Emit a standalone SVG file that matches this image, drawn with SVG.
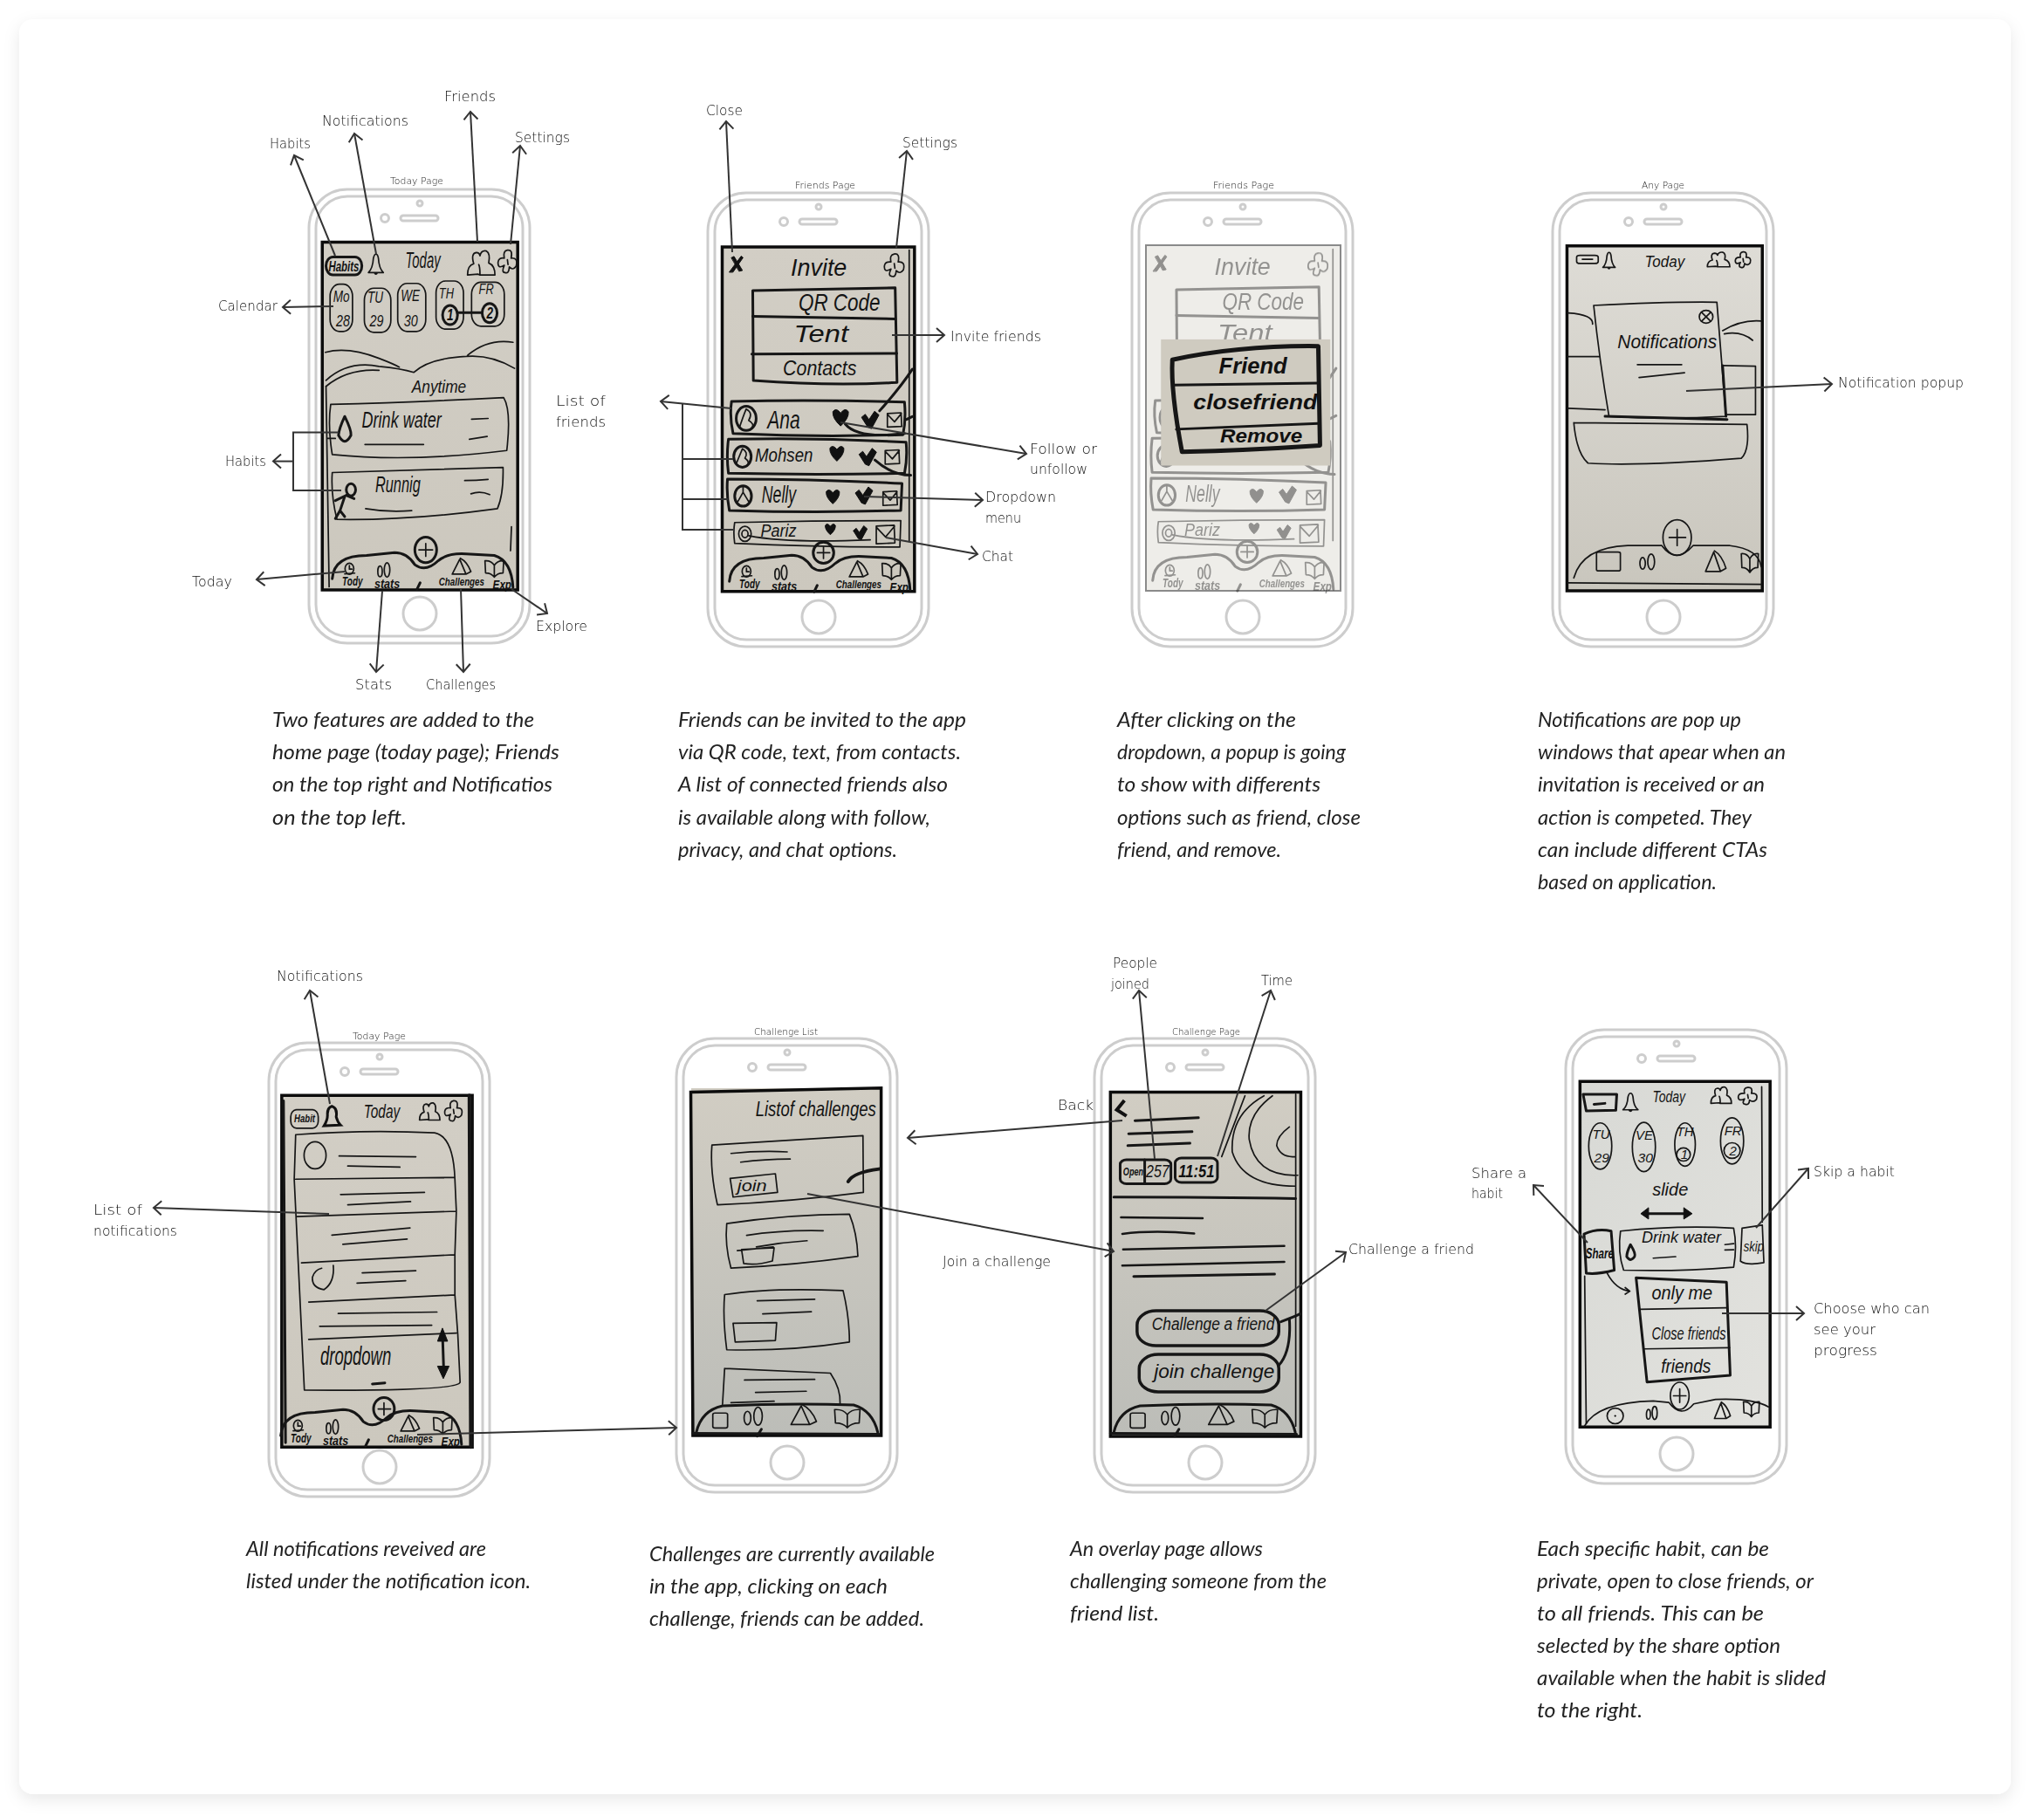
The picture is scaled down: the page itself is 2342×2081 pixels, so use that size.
<svg xmlns="http://www.w3.org/2000/svg" width="2342" height="2081" viewBox="0 0 2342 2081">
<style>
.f{fill:none;stroke:#cdcdcd;stroke-width:3}
.s{fill:none;stroke:#161616;stroke-width:1.7;vector-effect:non-scaling-stroke;stroke-linecap:round;stroke-linejoin:round}
.b{stroke-width:3}
.k{fill:#111;stroke:#111;stroke-width:1;vector-effect:non-scaling-stroke;stroke-linejoin:round}
.fr{fill:none;stroke:#0c0c0c;stroke-width:3.5;vector-effect:non-scaling-stroke}
.t{font-family:"Liberation Sans",Arial,sans-serif;font-style:italic;fill:#141414}
.tb{font-family:"Liberation Sans",Arial,sans-serif;font-style:italic;font-weight:700;fill:#111}
.l{font-family:"DejaVu Sans",sans-serif;font-weight:200;font-size:15px;fill:#111}
.p{font-family:"DejaVu Sans",sans-serif;font-weight:200;font-size:10px;fill:#222}
.c{font-family:"Lato","Liberation Sans",sans-serif;font-style:italic;font-size:24px;fill:#222}
.a{fill:none;stroke:#333;stroke-width:2;marker-end:url(#ah)}
.n{fill:none;stroke:#333;stroke-width:2}
</style>
<defs>
<filter id="sh" x="-3%" y="-3%" width="106%" height="106%"><feDropShadow dx="0" dy="6" stdDeviation="9" flood-color="#000" flood-opacity=".09"/></filter>
<marker id="ah" viewBox="-12 -10 14 20" refX="0" refY="0" markerWidth="14" markerHeight="20" markerUnits="userSpaceOnUse" orient="auto"><path d="M-9,-8 L0,0 L-9,8" fill="none" stroke="#333" stroke-width="2"/></marker>
<linearGradient id="g1" x1="0" y1="0" x2="0" y2="1"><stop offset="0" stop-color="#d2cec5"/><stop offset="1" stop-color="#ccc8be"/></linearGradient>
<linearGradient id="g2" x1="0" y1="0" x2="0" y2="1"><stop offset="0" stop-color="#d1cdc3"/><stop offset="1" stop-color="#bcbdb8"/></linearGradient>
<linearGradient id="g3" x1="0" y1="0" x2="0" y2="1"><stop offset="0" stop-color="#dedcd6"/><stop offset="1" stop-color="#c9c6bd"/></linearGradient>
<linearGradient id="g4" x1="0" y1="0" x2="1" y2="1"><stop offset="0" stop-color="#d8d9d5"/><stop offset="1" stop-color="#e2e2de"/></linearGradient>
<g id="phone">
<rect class="f" x="0" y="0" width="253" height="520" rx="44"/>
<rect class="f" x="8" y="8" width="237" height="504" rx="36"/>
<circle class="f" cx="127" cy="16" r="3" stroke-width="2"/>
<circle class="f" cx="87" cy="33" r="4.5"/>
<rect class="f" x="105" y="30" width="43" height="6" rx="3"/>
<circle class="f" cx="127" cy="486" r="19" stroke-width="4"/>
</g>
<path id="heart" class="k" d="M0,-12 Q14,-28 25,-16 Q27,2 0,22 Q-27,2 -25,-16 Q-14,-28 0,-12 Z"/>
<path id="check" class="k" d="M-28,-8 L-16,-16 L-4,-2 L14,-24 L28,-14 L4,22 L-8,18 Z"/>
<g id="mail"><path class="s" d="M-22,-18 L22,-20 L24,16 L-22,18 Z M-22,-16 L1,4 L23,-18"/></g>
<path id="bell" class="s" d="M-24,22 Q-10,12 -8,-14 Q-5,-24 0,-24 Q6,-24 8,-14 Q10,12 24,22 Z M-5,22 Q0,30 5,22"/>
<path id="friends" class="s" d="M-44,30 Q-44,6 -24,2 Q-34,-24 -16,-26 Q-6,-26 -4,-18 Q0,-32 16,-30 Q30,-24 24,0 Q44,6 44,30 L-4,30 L-10,28 L-44,30 Z M-8,4 Q-4,10 -4,28"/>
<path id="flower" class="s" d="M0,-30 Q18,-32 12,-10 Q35,-12 28,10 Q18,22 6,12 Q5,30 -8,26 Q-20,25 -10,8 Q-32,18 -30,0 Q-28,-12 -10,-10 Q-15,-28 0,-30 Z M0,-6 L2,6"/>
<path id="book" class="s" d="M-30,-28 Q-10,-30 0,-12 Q10,-30 30,-28 L28,15 Q10,15 0,30 Q-10,15 -28,15 Z M0,-12 L0,30"/>
<path id="tri" class="s" d="M-30,30 L-6,-30 L14,30 Z M-4,-34 Q18,-20 30,20 L14,30"/>
<g id="bars"><ellipse class="s" cx="-13" cy="5" rx="8" ry="18"/><ellipse class="s" cx="12" cy="0" rx="10" ry="24"/></g>
<g id="nav" font-size="40">
<path class="s b" d="M450,1270 Q455,1212 560,1212 L650,1205 Q690,1205 715,1235 Q750,1255 790,1225 Q820,1205 880,1208 L970,1212 Q1025,1225 1030,1292"/>
<circle class="s" cx="505" cy="1245" r="14"/><path class="s" d="M490,1258 L522,1256 M505,1237 L505,1246 L513,1246"/>
<use href="#bars" transform="translate(615,1248) scale(.9,.75)"/>
<use href="#tri" transform="translate(865,1240) scale(1,.62)"/>
<use href="#book" transform="translate(970,1245) scale(1,.7)"/>
<text class="tb" x="482" y="1288" font-size="30" textLength="66" lengthAdjust="spacingAndGlyphs">Tody</text>
<text class="tb" x="585" y="1294" font-size="30" textLength="82" lengthAdjust="spacingAndGlyphs">stats</text>
<text class="tb" x="792" y="1288" font-size="28" textLength="146" lengthAdjust="spacingAndGlyphs">Challenges</text>
<text class="tb" x="965" y="1296" font-size="30" textLength="60" lengthAdjust="spacingAndGlyphs">Exp</text>
<path class="s b" d="M722,1296 L732,1280"/>
</g>
<g id="nav2">
<path class="s b" d="M78,1320 Q90,1250 140,1235 Q300,1225 450,1232 Q495,1250 507,1320 M70,1323 L510,1326 M222,1332 L232,1310"/>
<rect class="s" x="117" y="1258" width="35" height="48" rx="5"/>
<use href="#bars" transform="translate(212,1268) scale(1,1.2)"/>
<use href="#tri" transform="translate(332,1265)"/>
<use href="#book" transform="translate(435,1275)"/>
</g>
<g id="friends-sketch">
<path class="s k" d="M268,488 L306,446 L312,450 L280,488 Z M275,450 L283,447 L310,484 L300,486 Z"/>
<text class="t" x="465" y="498" font-size="62" textLength="180" lengthAdjust="spacingAndGlyphs">Invite</text>
<use href="#flower" transform="translate(797,472) scale(1.05)"/>
<path class="s b" d="M343,537 L800,530 L806,780 Q600,790 345,775 Z"/>
<path class="s b" d="M343,605 L800,612 M340,705 L805,703"/>
<text class="t" x="490" y="590" font-size="62" textLength="262" lengthAdjust="spacingAndGlyphs">QR Code</text>
<text class="t" x="475" y="674" font-size="62" textLength="175" lengthAdjust="spacingAndGlyphs">Tent</text>
<text class="t" x="440" y="762" font-size="54" textLength="236" lengthAdjust="spacingAndGlyphs">Contacts</text>
<path class="s b" d="M855,745 Q820,790 750,855"/>
<path class="s b" d="M275,830 Q550,825 830,832 Q835,880 825,918 Q550,925 280,915 Q268,870 275,830 Z"/>
<circle class="s b" cx="322" cy="875" r="32"/><path class="s" d="M300,900 Q312,870 322,850 Q345,860 330,880 Q350,890 340,900"/>
<text class="t" x="390" y="902" font-size="66" textLength="105" lengthAdjust="spacingAndGlyphs">Ana</text>
<use href="#heart" transform="translate(625,873)"/><use href="#check" transform="translate(720,880)"/><use href="#mail" transform="translate(797,880)"/>
<path class="s b" d="M265,930 Q550,925 835,938 Q840,980 830,1020 Q550,1025 265,1020 Q258,975 265,930 Z"/>
<circle class="s b" cx="310" cy="976" r="28"/><path class="s" d="M290,995 Q300,975 310,955 Q330,965 318,980 Q335,990 325,1000"/>
<text class="t" x="350" y="990" font-size="50" textLength="186" lengthAdjust="spacingAndGlyphs">Mohsen</text>
<use href="#heart" transform="translate(613,968) scale(.9)"/><use href="#check" transform="translate(712,978)"/><use href="#mail" transform="translate(790,978)"/>
<path class="s b" d="M262,1035 Q550,1035 822,1047 L818,1118 Q550,1125 268,1118 Q258,1075 262,1035 Z"/>
<circle class="s b" cx="312" cy="1080" r="27"/><path class="s" d="M295,1095 L312,1070 L330,1095 M312,1055 L312,1070"/>
<text class="t" x="372" y="1098" font-size="62" textLength="110" lengthAdjust="spacingAndGlyphs">Nelly</text>
<use href="#heart" transform="translate(600,1082) scale(.85)"/><use href="#check" transform="translate(700,1080)"/><use href="#mail" transform="translate(783,1087)"/>
<path class="s" d="M285,1150 Q550,1145 818,1145 L815,1215 Q550,1215 285,1205 Q280,1175 285,1150 Z"/>
<circle class="s" cx="318" cy="1180" r="20"/><circle class="s" cx="318" cy="1180" r="10"/>
<text class="t" x="368" y="1188" font-size="46" textLength="115" lengthAdjust="spacingAndGlyphs">Pariz</text>
<use href="#heart" transform="translate(592,1168) scale(.65)"/><use href="#check" transform="translate(688,1178) scale(.8)"/><use href="#mail" transform="translate(768,1183) scale(1.3)"/>
<path class="s b" d="M640,890 Q680,930 830,915 M735,985 Q790,1025 850,1025 M855,870 L835,878"/>
<path class="s" d="M845,430 L845,1200 M330,1185 Q450,1205 720,1196"/>
<ellipse class="s b" cx="570" cy="1230" rx="33" ry="28"/><path class="s" d="M550,1230 L590,1230 M570,1215 L570,1245"/>
</g>
</defs>

<rect x="0" y="0" width="2342" height="2081" fill="#fff"/>
<rect x="22" y="22" width="2282" height="2034" rx="16" fill="#fff" filter="url(#sh)"/>

<g id="phone-today">
<use href="#phone" x="354" y="217"/>
<rect x="369" y="277" width="224" height="399" fill="url(#g1)"/>
<g transform="translate(220,80) scale(.3571,.4592)">
<rect class="fr" x="418" y="430" width="627" height="868"/>
<rect class="s b" x="430" y="467" width="115" height="45" rx="22"/>
<text class="tb" x="438" y="503" font-size="36" textLength="98" lengthAdjust="spacingAndGlyphs">Habits</text>
<use href="#bell" transform="translate(590,484)"/>
<text class="t" x="685" y="495" font-size="56" textLength="112" lengthAdjust="spacingAndGlyphs">Today</text>
<use href="#friends" transform="translate(928,482)"/>
<use href="#flower" transform="translate(1012,480)"/>
<rect class="s" x="443" y="535" width="72" height="118" rx="30"/><rect class="s" x="553" y="545" width="85" height="110" rx="30"/><rect class="s" x="660" y="533" width="90" height="120" rx="30"/><rect class="s" x="783" y="527" width="88" height="120" rx="30"/><rect class="s" x="897" y="530" width="105" height="110" rx="30"/>
<text class="t" x="453" y="580" font-size="38">Mo</text><text class="t" x="462" y="640" font-size="40">28</text>
<text class="t" x="563" y="582" font-size="38">TU</text><text class="t" x="570" y="640" font-size="40">29</text>
<text class="t" x="670" y="578" font-size="38">WE</text><text class="t" x="680" y="640" font-size="40">30</text>
<text class="t" x="792" y="570" font-size="36">TH</text><text class="t" x="920" y="560" font-size="36">FR</text>
<circle class="s b" cx="828" cy="612" r="24"/><text class="tb" x="818" y="626" font-size="38">1</text>
<circle class="s b" cx="955" cy="607" r="24"/><text class="tb" x="945" y="621" font-size="38">2</text>
<path class="s b" d="M855,606 L930,606"/>
<path class="s" d="M428,705 Q500,690 600,720 Q650,735 665,742 M430,775 Q500,725 600,740 Q670,745 712,755 Q760,720 880,715 Q960,710 1035,745 M885,712 Q950,670 1030,680 M430,790 Q500,745 600,750"/>
<text class="t" x="705" y="805" font-size="44" textLength="175" lengthAdjust="spacingAndGlyphs">Anytime</text>
<path class="s" d="M445,835 Q700,830 1000,818 Q1025,850 1010,950 Q700,980 450,960 Q435,890 445,835 Z M555,935 L743,935 M897,872 L950,870 M890,922 L947,915 M435,920 L460,920"/>
<path class="s b" d="M490,865 Q512,900 510,912 Q490,942 470,912 Q472,895 490,865 Z"/>
<text class="t" x="545" y="892" font-size="56" textLength="255" lengthAdjust="spacingAndGlyphs">Drink water</text>
<path class="s" d="M450,1005 Q700,1000 998,992 Q1000,1060 980,1095 Q700,1125 465,1122 Q445,1060 450,1005 Z M557,1095 Q630,1105 705,1100 M875,1025 Q910,1025 950,1022 M895,1058 Q925,1050 955,1060 M430,790 L440,1290"/>
<text class="t" x="588" y="1055" font-size="56" textLength="145" lengthAdjust="spacingAndGlyphs">Runnig</text>
<circle class="s b" cx="510" cy="1048" r="15"/><path class="s b" d="M500,1060 L460,1075 M490,1065 L475,1100 L460,1120 M475,1100 L490,1115 M520,1070 L495,1062"/>
<ellipse class="s b" cx="750" cy="1198" rx="35" ry="32"/><path class="s" d="M728,1198 L772,1198 M750,1182 L750,1214"/>
<path class="s" d="M1025,1140 L1022,1200"/>
<use href="#nav"/>
</g>
</g>

<g id="phone-friends">
<use href="#phone" x="811" y="221"/>
<rect x="828" y="283" width="220" height="395" fill="url(#g1)"/>
<g transform="translate(740,100) scale(.3571,.4337)">
<rect class="fr" x="245" y="422" width="617" height="910"/>
<use href="#friends-sketch"/>
</g>
<use href="#nav" transform="translate(675,83) scale(.3571,.4592)"/>
</g>

<g id="phone-friends-popup">
<use href="#phone" x="1297" y="221"/>
<rect x="1313" y="281" width="223" height="396" fill="#eeede9" stroke="#8a8a8a" stroke-width="2"/>
<g opacity=".42">
<g transform="translate(1225.5,99) scale(.3571,.4337)"><use href="#friends-sketch"/></g>
<use href="#nav" transform="translate(1160,82) scale(.3571,.4592)"/>
</g>
<g transform="translate(1260,190) scale(.6506,.3704)">
<rect x="108" y="537" width="297" height="390" fill="#cfcbc0"/>
<path class="s" style="stroke-width:5" d="M128,600 Q250,555 385,558 L388,865 Q260,880 145,885 Q125,700 128,600 Z"/>
<path class="s b" d="M130,678 L385,672 M135,815 L385,797"/>
<text class="tb" x="210" y="642" font-size="72" textLength="120" lengthAdjust="spacingAndGlyphs">Friend</text>
<text class="tb" x="165" y="752" font-size="66" textLength="218" lengthAdjust="spacingAndGlyphs">closefriend</text>
<text class="tb" x="212" y="857" font-size="62" textLength="145" lengthAdjust="spacingAndGlyphs">Remove</text>
</g>
</g>

<g id="phone-any">
<use href="#phone" x="1779" y="221"/>
<rect x="1796" y="282" width="223" height="395" fill="url(#g3)"/>
<g transform="translate(1260,190) scale(.6506,.3704)">
<rect class="fr" x="823" y="248" width="344" height="1067"/>
<rect class="s" x="840" y="277" width="38" height="25" rx="6"/><path class="s" d="M850,289 L868,289"/>
<use href="#bell" transform="translate(897,292) scale(.45,1)"/>
<text class="t" x="960" y="312" font-size="50" textLength="70" lengthAdjust="spacingAndGlyphs">Today</text>
<use href="#friends" transform="translate(1090,290) scale(.45,.75)"/>
<use href="#flower" transform="translate(1133,292) scale(.45,.85)"/>
<path class="s" d="M825,455 Q870,460 868,490 M1097,510 Q1130,475 1165,480 M1100,520 Q1130,510 1150,540 M825,590 L880,590 M1097,618 L1155,620 L1155,770 L1103,770 M825,750 L890,755 M835,795 L1140,800 Q1145,880 1130,905 Q950,930 860,920 Q840,890 835,795"/>
<path class="s" d="M870,432 Q1000,420 1087,422 L1103,775 Q1000,785 897,775 Q880,600 870,432 Z"/>
<path class="s b" d="M890,775 L1105,785 M1097,618 L1103,775"/>
<ellipse class="s" cx="1068" cy="467" rx="12" ry="20"/><path class="s" d="M1060,453 L1076,481 M1076,453 L1060,481"/>
<text class="t" x="912" y="565" font-size="62" textLength="175" lengthAdjust="spacingAndGlyphs">Notifications</text>
<path class="s" d="M947,615 L1025,615 M950,655 L1030,640"/>
<path class="s" d="M835,1275 Q850,1180 930,1175 L990,1175 Q1015,1235 1045,1175 L1110,1175 Q1160,1185 1165,1240 M825,1290 L1165,1295"/>
<ellipse class="s" cx="1017" cy="1150" rx="25" ry="55"/><path class="s" d="M1003,1150 L1032,1150 M1017,1125 L1017,1175"/>
<rect class="s" x="875" y="1195" width="42" height="58" rx="4"/>
<use href="#bars" transform="translate(964,1225) scale(.6,1)"/>
<use href="#tri" transform="translate(1085,1225) scale(.6,1)"/>
<use href="#book" transform="translate(1145,1228) scale(.5,1)"/>
</g>
</g>

<g id="phone-notifications">
<use href="#phone" x="308" y="1195"/>
<rect x="323" y="1255" width="218" height="403" fill="url(#g1)"/>
<g transform="translate(90,1090) scale(.3317,.4082)">
<rect class="fr" x="702" y="405" width="658" height="987"/>
<path class="s b" d="M708,420 L715,1380"/><path class="s" style="stroke-width:4" d="M1350,405 L1355,1392"/>
<rect class="s" x="733" y="445" width="95" height="52" rx="20"/>
<text class="tb" x="745" y="480" font-size="30" textLength="72" lengthAdjust="spacingAndGlyphs">Habit</text>
<path d="M875,435 Q895,440 890,465 Q895,480 905,488 L848,490 Q860,475 860,460 Q858,440 875,435 Z" fill="none" stroke="#111" stroke-width="3" vector-effect="non-scaling-stroke"/>
<text class="t" x="985" y="467" font-size="54" textLength="125" lengthAdjust="spacingAndGlyphs">Today</text>
<use href="#friends" transform="translate(1213,450) scale(.8)"/>
<use href="#flower" transform="translate(1295,450)"/>
<path class="s" d="M750,515 Q1000,500 1230,510 Q1295,520 1300,640 L1305,730 L1300,850 L1300,965 L1310,1075 L1318,1210 Q1310,1235 780,1232 L745,640 Z M750,640 L1298,635 M752,745 L1305,730 M770,875 L1300,852 M795,985 L1300,965 M795,1090 L1305,1072"/>
<circle class="s" cx="817" cy="573" r="38"/><path class="s" d="M880,882 Q885,930 848,950 Q805,945 808,915 Q815,895 840,890"/>
<path class="s" d="M900,575 L1165,577 M930,603 L1110,606 M905,683 L1195,677 M930,712 L1147,703 M875,797 L1145,777 M913,823 L1135,808 M980,903 L1165,897 M962,932 L1130,925 M897,1017 L1238,1013 M833,1053 L1220,1050"/>
<text class="t" x="835" y="1160" font-size="72" textLength="245" lengthAdjust="spacingAndGlyphs">dropdown</text>
<path class="s b" d="M1015,1215 L1058,1212 M1257,1070 L1262,1190"/>
<path class="k" d="M1257,1058 L1275,1095 L1240,1095 Z M1260,1200 L1240,1165 L1280,1165 Z"/>
<ellipse class="s b" cx="1055" cy="1285" rx="36" ry="32"/><path class="s" d="M1035,1285 L1078,1285 M1055,1268 L1055,1302"/>
</g>
<use href="#nav" transform="translate(161,1062) scale(.3571,.4592)"/>
</g>

<g id="phone-challenge-list">
<use href="#phone" x="775" y="1190"/>
<rect x="792" y="1247" width="218" height="399" fill="url(#g2)"/>
<g transform="translate(760,1170) scale(.4847,.3571)">
<path class="fr" d="M65,228 L515,215 L515,1330 L70,1330 Z"/>
<text class="t" x="218" y="305" font-size="66" textLength="285" lengthAdjust="spacingAndGlyphs">Listof challenges</text>
<path class="s" d="M115,398 L472,368 L473,550 Q300,580 128,590 Q110,480 115,398 Z M158,505 L265,490 L270,550 L165,565 Z M160,425 Q230,415 293,420 M183,453 Q240,443 300,443"/>
<text class="t" x="175" y="545" font-size="50" textLength="70" lengthAdjust="spacingAndGlyphs">join</text>
<path class="s" style="stroke-width:4" d="M437,515 Q450,485 510,475"/>
<path class="s" d="M150,650 Q300,620 440,620 Q458,680 460,755 Q300,785 160,793 Q145,720 150,650 Z M197,688 Q280,670 378,673 M220,725 Q280,710 340,705 M185,733 L262,728 L258,770 Q220,785 190,778 Z M175,737 L260,725"/>
<path class="s" d="M145,878 Q250,855 425,865 Q440,950 440,1030 Q300,1060 150,1055 Q140,950 145,878 Z M222,898 L358,893 M235,940 L350,933 M165,970 L268,968 L265,1025 L170,1030 Z"/>
<path class="s" d="M145,1115 Q300,1125 395,1130 Q420,1180 418,1230 M145,1115 L140,1230 M192,1152 L358,1150 M218,1192 L338,1188 M160,1225 L262,1220"/>
<use href="#nav2"/>
</g>
</g>

<g id="phone-challenge">
<use href="#phone" x="1254" y="1190"/>
<rect x="1272" y="1251" width="218" height="395" fill="url(#g2)"/>
<g transform="translate(760,1170) scale(.4847,.3571)">
<rect class="fr" x="1057" y="228" width="450" height="1105"/>
<path d="M1090,255 L1072,285 L1095,305" fill="none" stroke="#111" stroke-width="4" vector-effect="non-scaling-stroke"/>
<path class="s b" d="M1115,320 L1265,310 M1100,362 L1250,355 M1098,400 L1245,392 M1112,820 L1445,812"/>
<path class="s" style="stroke-width:2.5" d="M1082,630 L1275,633 M1085,683 Q1160,670 1255,682 M1087,733 L1468,722 M1085,785 L1468,773"/>
<rect class="s b" x="1080" y="445" width="120" height="77" rx="15"/><path class="s b" d="M1138,445 L1138,520"/>
<text class="tb" x="1087" y="495" font-size="38" textLength="48" lengthAdjust="spacingAndGlyphs">Open</text>
<text class="t" x="1141" y="500" font-size="56" textLength="55" lengthAdjust="spacingAndGlyphs">257</text>
<rect class="s b" x="1210" y="440" width="100" height="78" rx="15"/>
<text class="tb" x="1218" y="500" font-size="58" textLength="85" lengthAdjust="spacingAndGlyphs">11:51</text>
<path class="s" d="M1320,435 L1375,240 M1420,240 Q1340,300 1345,420 Q1370,530 1495,530 M1440,240 Q1380,300 1385,380 Q1400,500 1500,495 M1480,340 Q1450,370 1450,400 Q1460,440 1495,435 M1495,235 L1495,1300"/>
<path class="s b" d="M1065,565 Q1300,565 1495,570"/>
<rect class="s" style="stroke-width:3.5" x="1120" y="930" width="335" height="112" rx="45"/>
<text class="t" x="1155" y="992" font-size="58" textLength="290" lengthAdjust="spacingAndGlyphs">Challenge a friend</text>
<rect class="s" style="stroke-width:3.5" x="1125" y="1070" width="330" height="120" rx="45"/>
<text class="t" x="1160" y="1145" font-size="62" textLength="285" lengthAdjust="spacingAndGlyphs">join challenge</text>
<path class="s b" d="M1460,965 Q1490,950 1505,940 M1480,955 Q1485,1060 1455,1105"/>
<use href="#nav2" transform="translate(987,0)"/>
</g>
</g>

<g id="phone-share">
<use href="#phone" x="1794" y="1180"/>
<rect x="1810" y="1239" width="218" height="396" fill="url(#g4)"/>
<g transform="translate(1680,1180) scale(.3571,.3444)">
<rect class="fr" x="365" y="172" width="610" height="1150"/>
<path class="s" d="M948,190 L950,640 M380,820 L385,1310"/>
<path class="s b" d="M375,215 L483,215 L480,268 L385,270 Z M410,248 L445,245"/>
<use href="#bell" transform="translate(527,240) scale(1,1.2)"/>
<text class="t" x="598" y="240" font-size="56" textLength="105" lengthAdjust="spacingAndGlyphs">Today</text>
<use href="#friends" transform="translate(818,218) scale(.75,.9)"/>
<use href="#flower" transform="translate(903,222)"/>
<ellipse class="s" cx="430" cy="387" rx="37" ry="77"/><ellipse class="s" cx="570" cy="390" rx="37" ry="82"/><ellipse class="s" cx="702" cy="382" rx="33" ry="72"/><ellipse class="s" cx="853" cy="370" rx="37" ry="77"/>
<text class="t" x="405" y="362" font-size="42">TU</text><text class="t" x="410" y="442" font-size="44">29</text>
<text class="t" x="543" y="365" font-size="42">VE</text><text class="t" x="550" y="442" font-size="44">30</text>
<text class="t" x="674" y="355" font-size="42">TH</text><text class="t" x="828" y="350" font-size="42">FR</text>
<circle class="s" cx="697" cy="415" r="22"/><text class="t" x="688" y="430" font-size="42">1</text>
<circle class="s" cx="853" cy="402" r="26"/><text class="t" x="844" y="417" font-size="42">2</text>
<text class="t" x="597" y="553" font-size="58" textLength="115" lengthAdjust="spacingAndGlyphs">slide</text>
<path class="s b" d="M575,612 L710,612"/><path class="k" d="M560,612 L585,592 L585,630 Z M725,612 L698,592 L698,630 Z"/>
<path class="s" style="stroke-width:3" d="M378,680 Q420,660 465,670 L475,800 Q420,815 385,810 Z"/>
<text class="tb" x="383" y="762" font-size="50" textLength="90" lengthAdjust="spacingAndGlyphs">Share</text>
<path class="s" d="M495,670 Q680,650 858,660 Q870,720 858,790 Q680,805 505,800 Q485,740 495,670 Z M600,760 L672,755 M830,715 L858,712 M830,733 L858,732"/>
<path class="s b" d="M527,715 Q545,745 540,755 Q527,775 515,755 Q515,740 527,715 Z"/>
<text class="t" x="563" y="708" font-size="54" textLength="255" lengthAdjust="spacingAndGlyphs">Drink water</text>
<path class="s" d="M885,660 L950,650 L955,775 Q900,785 880,770 Z"/>
<text class="t" x="890" y="737" font-size="50" textLength="65" lengthAdjust="spacingAndGlyphs">skip</text>
<path class="s" d="M452,810 Q480,865 525,870 M510,858 L525,870 L510,880"/>
<path class="s" style="stroke-width:3" d="M545,825 L835,840 L847,1150 L580,1172 Z"/>
<path class="s" d="M555,930 L835,925 M570,1062 L845,1058"/>
<text class="t" x="595" y="897" font-size="64" textLength="195" lengthAdjust="spacingAndGlyphs">only me</text>
<text class="t" x="595" y="1032" font-size="60" textLength="238" lengthAdjust="spacingAndGlyphs">Close friends</text>
<text class="t" x="625" y="1140" font-size="62" textLength="160" lengthAdjust="spacingAndGlyphs">friends</text>
<ellipse class="s" cx="685" cy="1218" rx="30" ry="45"/><path class="s" d="M665,1218 L705,1218 M685,1195 L685,1240"/>
<path class="s" d="M380,1318 Q420,1240 600,1235 L650,1240 Q690,1295 730,1245 L800,1230 Q920,1225 970,1255"/>
<circle class="s" cx="478" cy="1285" r="26"/><circle class="k" cx="478" cy="1285" r="2"/>
<use href="#bars" transform="translate(595,1275) scale(.8,.9)"/>
<use href="#tri" transform="translate(822,1268) scale(.85)"/>
<use href="#book" transform="translate(915,1262) scale(.85)"/>
</g>
</g>

<g id="connectors">
<path class="a" d="M384,293 L337,178"/>
<path class="a" d="M431,291 L406,153"/>
<path class="a" d="M547,277 L539,128"/>
<path class="a" d="M585,280 L596,167"/>
<path class="a" d="M382,351 L324,352"/>
<path class="n" d="M388,495.5 L336,495.5 L336,562 L391,562"/>
<path class="a" d="M336,528.6 L313,528.6"/>
<path class="a" d="M395,655 L294,664"/>
<path class="a" d="M438,677 L431,770"/>
<path class="a" d="M528,675 L531,770"/>
<path class="a" d="M586,675 L627,703"/>
<path class="a" d="M839,289 L832,139"/>
<path class="a" d="M1027,284 L1039,173"/>
<path class="a" d="M1022,384 L1082,384"/>
<path class="a" d="M838,468 L757,460"/>
<path class="n" d="M782,463 L782,607 L842,607 M782,526 L840,526 M782,572 L834,572"/>
<path class="a" d="M963,484 L1176,520"/>
<path class="a" d="M990,569 L1126,573"/>
<path class="a" d="M1015,616 L1120,635"/>
<path class="a" d="M1932,448 L2099,440"/>
<path class="a" d="M378,1265 L355,1135"/>
<path class="a" d="M377,1391 L176,1384"/>
<path class="a" d="M478,1644 L775,1636"/>
<path class="a" d="M1286,1284 L1040,1304"/>
<path class="a" d="M925,1368 L1276,1434"/>
<path class="a" d="M1323,1328 L1305,1135"/>
<path class="a" d="M1395,1325 L1456,1135"/>
<path class="a" d="M1450,1502 L1542,1435"/>
<path class="a" d="M1819,1424 L1757,1358"/>
<path class="a" d="M2012,1407 L2072,1339"/>
<path class="a" d="M1973,1505 L2067,1505"/>
</g>

<g id="labels">
<text class="l" x="309" y="170" textLength="47" lengthAdjust="spacingAndGlyphs">Habits</text>
<text class="l" x="369" y="144" textLength="99" lengthAdjust="spacingAndGlyphs">Notifications</text>
<text class="l" x="509" y="116" textLength="59" lengthAdjust="spacingAndGlyphs">Friends</text>
<text class="l" x="590" y="163" textLength="63" lengthAdjust="spacingAndGlyphs">Settings</text>
<text class="p" x="447" y="211" textLength="61" lengthAdjust="spacingAndGlyphs">Today Page</text>
<text class="l" x="250" y="356" textLength="68" lengthAdjust="spacingAndGlyphs">Calendar</text>
<text class="l" x="258" y="534" textLength="47" lengthAdjust="spacingAndGlyphs">Habits</text>
<text class="l" x="220" y="672" textLength="46" lengthAdjust="spacingAndGlyphs">Today</text>
<text class="l" x="614" y="723" textLength="59" lengthAdjust="spacingAndGlyphs">Explore</text>
<text class="l" x="407" y="790" textLength="42" lengthAdjust="spacingAndGlyphs">Stats</text>
<text class="l" x="488" y="790" textLength="80" lengthAdjust="spacingAndGlyphs">Challenges</text>
<text class="l" x="637" y="465" textLength="57" lengthAdjust="spacingAndGlyphs">List of</text>
<text class="l" x="637" y="489" textLength="57" lengthAdjust="spacingAndGlyphs">friends</text>
<text class="l" x="809" y="132" textLength="42" lengthAdjust="spacingAndGlyphs">Close</text>
<text class="l" x="1034" y="169" textLength="63" lengthAdjust="spacingAndGlyphs">Settings</text>
<text class="p" x="911" y="216" textLength="69" lengthAdjust="spacingAndGlyphs">Friends Page</text>
<text class="l" x="1089" y="391" textLength="104" lengthAdjust="spacingAndGlyphs">Invite friends</text>
<text class="l" x="1180" y="520" textLength="77" lengthAdjust="spacingAndGlyphs">Follow or</text>
<text class="l" x="1180" y="543" textLength="66" lengthAdjust="spacingAndGlyphs">unfollow</text>
<text class="l" x="1129" y="575" textLength="81" lengthAdjust="spacingAndGlyphs">Dropdown</text>
<text class="l" x="1129" y="599" textLength="41" lengthAdjust="spacingAndGlyphs">menu</text>
<text class="l" x="1125" y="643" textLength="36" lengthAdjust="spacingAndGlyphs">Chat</text>
<text class="p" x="1390" y="216" textLength="70" lengthAdjust="spacingAndGlyphs">Friends Page</text>
<text class="p" x="1881" y="216" textLength="49" lengthAdjust="spacingAndGlyphs">Any Page</text>
<text class="l" x="2106" y="444" textLength="144" lengthAdjust="spacingAndGlyphs">Notification popup</text>
<text class="l" x="317" y="1124" textLength="99" lengthAdjust="spacingAndGlyphs">Notifications</text>
<text class="p" x="404" y="1191" textLength="61" lengthAdjust="spacingAndGlyphs">Today Page</text>
<text class="l" x="107" y="1392" textLength="56" lengthAdjust="spacingAndGlyphs">List of</text>
<text class="l" x="107" y="1416" textLength="96" lengthAdjust="spacingAndGlyphs">notifications</text>
<text class="p" x="864" y="1186" textLength="73" lengthAdjust="spacingAndGlyphs">Challenge List</text>
<text class="p" x="1343" y="1186" textLength="78" lengthAdjust="spacingAndGlyphs">Challenge Page</text>
<text class="l" x="1212" y="1272" textLength="41" lengthAdjust="spacingAndGlyphs">Back</text>
<text class="l" x="1080" y="1451" textLength="124" lengthAdjust="spacingAndGlyphs">Join a challenge</text>
<text class="l" x="1275" y="1109" textLength="51" lengthAdjust="spacingAndGlyphs">People</text>
<text class="l" x="1273" y="1133" textLength="44" lengthAdjust="spacingAndGlyphs">joined</text>
<text class="l" x="1445" y="1129" textLength="36" lengthAdjust="spacingAndGlyphs">Time</text>
<text class="l" x="1545" y="1437" textLength="144" lengthAdjust="spacingAndGlyphs">Challenge a friend</text>
<text class="l" x="1686" y="1350" textLength="63" lengthAdjust="spacingAndGlyphs">Share a</text>
<text class="l" x="1686" y="1373" textLength="36" lengthAdjust="spacingAndGlyphs">habit</text>
<text class="l" x="2078" y="1348" textLength="93" lengthAdjust="spacingAndGlyphs">Skip a habit</text>
<text class="l" x="2078" y="1505" textLength="133" lengthAdjust="spacingAndGlyphs">Choose who can</text>
<text class="l" x="2078" y="1529" textLength="71" lengthAdjust="spacingAndGlyphs">see your</text>
<text class="l" x="2078" y="1553" textLength="73" lengthAdjust="spacingAndGlyphs">progress</text>
</g>

<g id="captions">
<g id="caption-1">
<text class="c" x="312" y="833" textLength="300" lengthAdjust="spacingAndGlyphs">Two features are added to the</text>
<text class="c" x="312" y="870" textLength="329" lengthAdjust="spacingAndGlyphs">home page (today page); Friends</text>
<text class="c" x="312" y="907" textLength="321" lengthAdjust="spacingAndGlyphs">on the top right and Notificatios</text>
<text class="c" x="312" y="945" textLength="154" lengthAdjust="spacingAndGlyphs">on the top left.</text>
</g>
<g id="caption-2">
<text class="c" x="777" y="833" textLength="330" lengthAdjust="spacingAndGlyphs">Friends can be invited to the app</text>
<text class="c" x="777" y="870" textLength="324" lengthAdjust="spacingAndGlyphs">via QR code, text, from contacts.</text>
<text class="c" x="777" y="907" textLength="309" lengthAdjust="spacingAndGlyphs">A list of connected friends also</text>
<text class="c" x="777" y="945" textLength="289" lengthAdjust="spacingAndGlyphs">is available along with follow,</text>
<text class="c" x="777" y="982" textLength="251" lengthAdjust="spacingAndGlyphs">privacy, and chat options.</text>
</g>
<g id="caption-3">
<text class="c" x="1280" y="833" textLength="205" lengthAdjust="spacingAndGlyphs">After clicking on the</text>
<text class="c" x="1280" y="870" textLength="262" lengthAdjust="spacingAndGlyphs">dropdown, a popup is going</text>
<text class="c" x="1280" y="907" textLength="233" lengthAdjust="spacingAndGlyphs">to show with differents</text>
<text class="c" x="1280" y="945" textLength="279" lengthAdjust="spacingAndGlyphs">options such as friend, close</text>
<text class="c" x="1280" y="982" textLength="188" lengthAdjust="spacingAndGlyphs">friend, and remove.</text>
</g>
<g id="caption-4">
<text class="c" x="1762" y="833" textLength="233" lengthAdjust="spacingAndGlyphs">Notifications are pop up</text>
<text class="c" x="1762" y="870" textLength="284" lengthAdjust="spacingAndGlyphs">windows that apear when an</text>
<text class="c" x="1762" y="907" textLength="260" lengthAdjust="spacingAndGlyphs">invitation is received or an</text>
<text class="c" x="1762" y="945" textLength="245" lengthAdjust="spacingAndGlyphs">action is competed. They</text>
<text class="c" x="1762" y="982" textLength="263" lengthAdjust="spacingAndGlyphs">can include different CTAs</text>
<text class="c" x="1762" y="1019" textLength="205" lengthAdjust="spacingAndGlyphs">based on application.</text>
</g>
<g id="caption-5">
<text class="c" x="282" y="1783" textLength="275" lengthAdjust="spacingAndGlyphs">All notifications reveived are</text>
<text class="c" x="282" y="1820" textLength="326" lengthAdjust="spacingAndGlyphs">listed under the notification icon.</text>
</g>
<g id="caption-6">
<text class="c" x="744" y="1789" textLength="327" lengthAdjust="spacingAndGlyphs">Challenges are currently available</text>
<text class="c" x="744" y="1826" textLength="273" lengthAdjust="spacingAndGlyphs">in the app, clicking on each</text>
<text class="c" x="744" y="1863" textLength="315" lengthAdjust="spacingAndGlyphs">challenge, friends can be added.</text>
</g>
<g id="caption-7">
<text class="c" x="1226" y="1783" textLength="221" lengthAdjust="spacingAndGlyphs">An overlay page allows</text>
<text class="c" x="1226" y="1820" textLength="294" lengthAdjust="spacingAndGlyphs">challenging someone from the</text>
<text class="c" x="1226" y="1857" textLength="102" lengthAdjust="spacingAndGlyphs">friend list.</text>
</g>
<g id="caption-8">
<text class="c" x="1761" y="1783" textLength="266" lengthAdjust="spacingAndGlyphs">Each specific habit, can be</text>
<text class="c" x="1761" y="1820" textLength="317" lengthAdjust="spacingAndGlyphs">private, open to close friends, or</text>
<text class="c" x="1761" y="1857" textLength="260" lengthAdjust="spacingAndGlyphs">to all friends. This can be</text>
<text class="c" x="1761" y="1894" textLength="279" lengthAdjust="spacingAndGlyphs">selected by the share option</text>
<text class="c" x="1761" y="1931" textLength="331" lengthAdjust="spacingAndGlyphs">available when the habit is slided</text>
<text class="c" x="1761" y="1968" textLength="121" lengthAdjust="spacingAndGlyphs">to the right.</text>
</g>
</g>
</svg>
